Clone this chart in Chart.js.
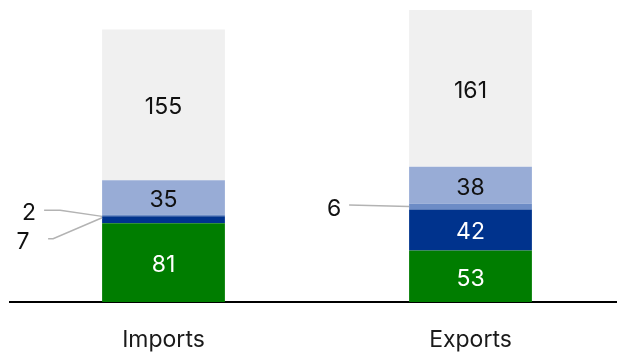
<!DOCTYPE html>
<html>
<head>
<meta charset="utf-8">
<script src="https://cdn.jsdelivr.net/npm/chart.js@4/dist/chart.umd.min.js"></script>
<style>
  html, body { margin: 0; padding: 0; background: #fff; overflow: hidden; }
  #wrap { width: 624px; height: 352px; }
</style>
</head>
<body>
<div id="wrap"><canvas id="bars"></canvas></div>
<script>
// chart data
const categories = ['Imports', 'Exports'];
const greenValues = [81, 53];
const darkBlueValues = [7, 42];
const midBlueValues = [2, 6];
const lightBlueValues = [35, 38];
const greyValues = [155, 161];

const FONT = 'Inter, "Noto Sans", sans-serif';

// small segments get their number outside the bar with a leader line
// key: datasetIndex-index, points relative to bar left edge / segment middle
const callouts = {
  '2-0': { text: [-73, -2], line: [[-58, -5], [-42, -5], [0, 1]] },
  '1-0': { text: [-79, 22], line: [[-54, 19], [-49, 19], [0, -2]] },
  '2-1': { text: [-75, 2], line: [[-60, -1.5], [0, 0]] }
};

const segmentLabels = {
  id: 'segmentLabels',
  afterDatasetsDraw(chart) {
    const ctx = chart.ctx;
    ctx.save();
    ctx.font = '23px ' + FONT;
    ctx.textAlign = 'center';
    ctx.textBaseline = 'middle';
    chart.data.datasets.forEach((ds, di) => {
      const meta = chart.getDatasetMeta(di);
      meta.data.forEach((bar, i) => {
        const v = ds.data[i];
        const mid = (bar.y + bar.base) / 2;
        const left = bar.x - bar.width / 2;
        const c = callouts[di + '-' + i];
        if (c) {
          ctx.strokeStyle = '#b3b3b3';
          ctx.lineWidth = 1.5;
          ctx.beginPath();
          c.line.forEach((p, k) => {
            if (k === 0) ctx.moveTo(left + p[0], mid + p[1]);
            else ctx.lineTo(left + p[0], mid + p[1]);
          });
          ctx.stroke();
          ctx.fillStyle = '#111';
          ctx.fillText(v, left + c.text[0], mid + c.text[1]);
        } else {
          ctx.fillStyle = ds.labelColor;
          ctx.fillText(v, bar.x, mid + 2.5);
        }
      });
    });
    ctx.restore();
  }
};

new Chart(document.getElementById('bars'), {
  type: 'bar',
  data: {
    labels: categories,
    datasets: [
      { data: greenValues, backgroundColor: '#007d00', labelColor: '#fff' },
      { data: darkBlueValues, backgroundColor: '#00338d', labelColor: '#fff' },
      { data: midBlueValues, backgroundColor: '#6d8cc6', labelColor: '#111' },
      { data: lightBlueValues, backgroundColor: '#98acd6', labelColor: '#111' },
      { data: greyValues, backgroundColor: '#f0f0f0', labelColor: '#111' }
    ]
  },
  options: {
    responsive: true,
    maintainAspectRatio: false,
    animation: false,
    layout: { padding: { top: 10, left: 10, right: 0, bottom: 0 } },
    datasets: {
      bar: { categoryPercentage: 1, barPercentage: 0.4, borderWidth: 0 }
    },
    plugins: {
      legend: { display: false },
      tooltip: { enabled: false }
    },
    scales: {
      x: {
        stacked: true,
        grid: { display: false, drawTicks: false },
        border: { display: true, color: '#000', width: 2 },
        ticks: { color: '#1a1a1a', padding: 24, font: { family: FONT, size: 23 } },
        afterFit(scale) { scale.height = 50; }
      },
      y: {
        stacked: true,
        display: false,
        min: 0,
        max: 300
      }
    }
  },
  plugins: [segmentLabels]
});
</script>
</body>
</html>
